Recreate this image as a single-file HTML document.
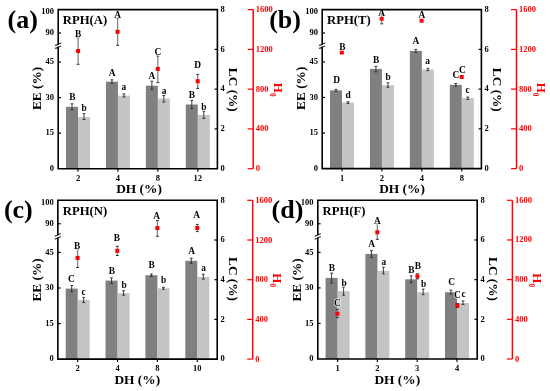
<!DOCTYPE html>
<html><head><meta charset="utf-8"><style>
html,body{margin:0;padding:0;background:#fff;}
svg{display:block;will-change:transform;}
text{font-family:"Liberation Serif",serif;font-weight:bold;}
</style></head><body>
<svg width="550" height="391" viewBox="0 0 550 391">
<rect width="550" height="391" fill="#fff"/>
<rect x="66" y="106.8" width="12" height="61.9" fill="#808080"/>
<rect x="78" y="117.1" width="12" height="51.6" fill="#c4c4c4"/>
<rect x="105.93" y="81.7" width="12" height="87" fill="#808080"/>
<rect x="117.93" y="95.6" width="12" height="73.1" fill="#c4c4c4"/>
<rect x="145.86" y="85.7" width="12" height="83" fill="#808080"/>
<rect x="157.86" y="98.6" width="12" height="70.1" fill="#c4c4c4"/>
<rect x="185.8" y="104.5" width="12" height="64.2" fill="#808080"/>
<rect x="197.8" y="115" width="12" height="53.7" fill="#c4c4c4"/>
<path d="M72 103.8V109.9M70.6 103.8H73.4M70.6 109.9H73.4" stroke="#2a2a2a" stroke-width="0.9" fill="none"/>
<path d="M84 113.6V119.5M82.6 113.6H85.4M82.6 119.5H85.4" stroke="#2a2a2a" stroke-width="0.9" fill="none"/>
<text x="72.3" y="99.95" font-size="9.4" text-anchor="middle" fill="#000" stroke="#fff" stroke-width="1.2" paint-order="stroke" stroke-linejoin="round">B</text>
<text x="84.2" y="111.25" font-size="9.4" text-anchor="middle" fill="#000" stroke="#fff" stroke-width="1.2" paint-order="stroke" stroke-linejoin="round">b</text>
<path d="M111.93 79.8V83.2M110.53 79.8H113.33M110.53 83.2H113.33" stroke="#2a2a2a" stroke-width="0.9" fill="none"/>
<path d="M123.93 93.9V97M122.53 93.9H125.33M122.53 97H125.33" stroke="#2a2a2a" stroke-width="0.9" fill="none"/>
<text x="112.2" y="76.05" font-size="9.4" text-anchor="middle" fill="#000" stroke="#fff" stroke-width="1.2" paint-order="stroke" stroke-linejoin="round">A</text>
<text x="123.9" y="89.8" font-size="9.4" text-anchor="middle" fill="#000" stroke="#fff" stroke-width="1.2" paint-order="stroke" stroke-linejoin="round">a</text>
<path d="M151.86 81.2V89.4M150.46 81.2H153.26M150.46 89.4H153.26" stroke="#2a2a2a" stroke-width="0.9" fill="none"/>
<path d="M163.86 95.5V102.1M162.46 95.5H165.26M162.46 102.1H165.26" stroke="#2a2a2a" stroke-width="0.9" fill="none"/>
<text x="151.9" y="79.25" font-size="9.4" text-anchor="middle" fill="#000" stroke="#fff" stroke-width="1.2" paint-order="stroke" stroke-linejoin="round">A</text>
<text x="164" y="93.6" font-size="9.4" text-anchor="middle" fill="#000" stroke="#fff" stroke-width="1.2" paint-order="stroke" stroke-linejoin="round">a</text>
<path d="M191.8 100.4V108.6M190.4 100.4H193.2M190.4 108.6H193.2" stroke="#2a2a2a" stroke-width="0.9" fill="none"/>
<path d="M203.8 111.3V118.4M202.4 111.3H205.2M202.4 118.4H205.2" stroke="#2a2a2a" stroke-width="0.9" fill="none"/>
<text x="191.8" y="98.25" font-size="9.4" text-anchor="middle" fill="#000" stroke="#fff" stroke-width="1.2" paint-order="stroke" stroke-linejoin="round">B</text>
<text x="203.9" y="109.95" font-size="9.4" text-anchor="middle" fill="#000" stroke="#fff" stroke-width="1.2" paint-order="stroke" stroke-linejoin="round">b</text>
<path d="M78.1 37.7V64.3" stroke="#858585" stroke-width="1.3" fill="none"/>
<path d="M76.65 37.7H79.55M76.65 64.3H79.55" stroke="#333" stroke-width="1" fill="none"/>
<rect x="76.1" y="49" width="4" height="4" fill="#ff0000"/>
<text x="78.1" y="36.55" font-size="9.4" text-anchor="middle" fill="#000" stroke="#fff" stroke-width="1.2" paint-order="stroke" stroke-linejoin="round">B</text>
<path d="M117.6 18.1V45.4" stroke="#858585" stroke-width="1.3" fill="none"/>
<path d="M116.15 18.1H119.05M116.15 45.4H119.05" stroke="#333" stroke-width="1" fill="none"/>
<rect x="115.6" y="29.8" width="4" height="4" fill="#ff0000"/>
<text x="117.6" y="18.15" font-size="9.4" text-anchor="middle" fill="#000" stroke="#fff" stroke-width="1.2" paint-order="stroke" stroke-linejoin="round">A</text>
<path d="M157.8 56V82.6" stroke="#858585" stroke-width="1.3" fill="none"/>
<path d="M156.35 56H159.25M156.35 82.6H159.25" stroke="#333" stroke-width="1" fill="none"/>
<rect x="155.8" y="66.9" width="4" height="4" fill="#ff0000"/>
<text x="157.9" y="54.65" font-size="9.4" text-anchor="middle" fill="#000" stroke="#fff" stroke-width="1.2" paint-order="stroke" stroke-linejoin="round">C</text>
<path d="M197.7 74.4V88.4" stroke="#858585" stroke-width="1.3" fill="none"/>
<path d="M196.25 74.4H199.15M196.25 88.4H199.15" stroke="#333" stroke-width="1" fill="none"/>
<rect x="195.7" y="79.2" width="4" height="4" fill="#ff0000"/>
<text x="197.7" y="67.55" font-size="9.4" text-anchor="middle" fill="#000" stroke="#fff" stroke-width="1.2" paint-order="stroke" stroke-linejoin="round">D</text>
<path d="M58.2 9.6H217.4V168.7H58.2Z" stroke="#000" stroke-width="1.6" fill="none"/>
<rect x="56.2" y="44.6" width="4" height="2.2" fill="#fff"/>
<path d="M55.2 45.4q1.5 -0.2 3 -1.2t3 -1.2M55.2 48.4q1.5 -0.2 3 -1.2t3 -1.2" stroke="#000" stroke-width="1.1" fill="none"/>
<text x="54" y="171" font-size="8.5" text-anchor="end">0</text>
<path d="M58.2 133.15h2.8" stroke="#000" stroke-width="1.2"/>
<text x="54" y="135.45" font-size="8.5" text-anchor="end">15</text>
<path d="M58.2 97.6h2.8" stroke="#000" stroke-width="1.2"/>
<text x="54" y="99.9" font-size="8.5" text-anchor="end">30</text>
<path d="M58.2 62.05h2.8" stroke="#000" stroke-width="1.2"/>
<text x="54" y="64.35" font-size="8.5" text-anchor="end">45</text>
<path d="M58.2 33.06h2.8" stroke="#000" stroke-width="1.2"/>
<text x="54" y="35.36" font-size="8.5" text-anchor="end">90</text>
<text x="54" y="14" font-size="8.5" text-anchor="end">100</text>
<text x="220.6" y="170.9" font-size="8.5">0</text>
<path d="M217.4 128.92h-2.8" stroke="#000" stroke-width="1.2"/>
<text x="220.6" y="131.12" font-size="8.5">2</text>
<path d="M217.4 89.15h-2.8" stroke="#000" stroke-width="1.2"/>
<text x="220.6" y="91.35" font-size="8.5">4</text>
<path d="M217.4 49.38h-2.8" stroke="#000" stroke-width="1.2"/>
<text x="220.6" y="51.58" font-size="8.5">6</text>
<text x="220.6" y="11.8" font-size="8.5">8</text>
<path d="M78 168.7v3" stroke="#000" stroke-width="1.1"/>
<text x="78" y="180.8" font-size="8.5" text-anchor="middle">2</text>
<path d="M117.93 168.7v3" stroke="#000" stroke-width="1.1"/>
<text x="117.93" y="180.8" font-size="8.5" text-anchor="middle">4</text>
<path d="M157.86 168.7v3" stroke="#000" stroke-width="1.1"/>
<text x="157.86" y="180.8" font-size="8.5" text-anchor="middle">8</text>
<path d="M197.8 168.7v3" stroke="#000" stroke-width="1.1"/>
<text x="197.8" y="180.8" font-size="8.5" text-anchor="middle">12</text>
<path d="M253.2 9.6V168.7" stroke="#ff0000" stroke-width="1.5"/>
<path d="M253.2 168.7h-5.5" stroke="#ff0000" stroke-width="1.2"/>
<text x="255.7" y="171.2" font-size="8.5" fill="#ff0000">0</text>
<path d="M253.2 128.92h-5.5" stroke="#ff0000" stroke-width="1.2"/>
<text x="255.7" y="131.42" font-size="8.5" fill="#ff0000">400</text>
<path d="M253.2 89.15h-5.5" stroke="#ff0000" stroke-width="1.2"/>
<text x="255.7" y="91.65" font-size="8.5" fill="#ff0000">800</text>
<path d="M253.2 49.37h-5.5" stroke="#ff0000" stroke-width="1.2"/>
<text x="255.7" y="51.87" font-size="8.5" fill="#ff0000">1200</text>
<path d="M253.2 9.6h-5.5" stroke="#ff0000" stroke-width="1.2"/>
<text x="255.7" y="12.1" font-size="8.5" fill="#ff0000">1600</text>
<text transform="translate(273.5 89.65) rotate(90)" font-size="13" fill="#ff0000" text-anchor="middle">H<tspan font-size="7.2" dy="3.4">0</tspan></text>
<text x="62.8" y="24.2" font-size="12.7">RPH(A)</text>
<text x="7.6" y="28.3" font-size="26">(a)</text>
<text x="139" y="192.9" font-size="13.4" text-anchor="middle">DH (%)</text>
<text transform="translate(41.3 88.5) rotate(-90)" font-size="13.3" text-anchor="middle">EE (%)</text>
<text transform="translate(229 89.8) rotate(90)" font-size="13.3" text-anchor="middle">LC (%)</text>
<rect x="330" y="90.4" width="12" height="78.2" fill="#808080"/>
<rect x="342" y="102.6" width="12" height="66" fill="#c4c4c4"/>
<rect x="369.93" y="68.9" width="12" height="99.7" fill="#808080"/>
<rect x="381.93" y="85.2" width="12" height="83.4" fill="#c4c4c4"/>
<rect x="409.86" y="50.9" width="12" height="117.7" fill="#808080"/>
<rect x="421.86" y="69.5" width="12" height="99.1" fill="#c4c4c4"/>
<rect x="449.8" y="84.8" width="12" height="83.8" fill="#808080"/>
<rect x="461.8" y="98.1" width="12" height="70.5" fill="#c4c4c4"/>
<path d="M336 89.4V91.4M334.6 89.4H337.4M334.6 91.4H337.4" stroke="#2a2a2a" stroke-width="0.9" fill="none"/>
<path d="M348 101.8V103.4M346.6 101.8H349.4M346.6 103.4H349.4" stroke="#2a2a2a" stroke-width="0.9" fill="none"/>
<text x="336.7" y="83.45" font-size="9.4" text-anchor="middle" fill="#000" stroke="#fff" stroke-width="1.2" paint-order="stroke" stroke-linejoin="round">D</text>
<text x="348.2" y="97.75" font-size="9.4" text-anchor="middle" fill="#000" stroke="#fff" stroke-width="1.2" paint-order="stroke" stroke-linejoin="round">d</text>
<path d="M375.93 66.4V71.9M374.53 66.4H377.33M374.53 71.9H377.33" stroke="#2a2a2a" stroke-width="0.9" fill="none"/>
<path d="M387.93 82.8V87.3M386.53 82.8H389.33M386.53 87.3H389.33" stroke="#2a2a2a" stroke-width="0.9" fill="none"/>
<text x="376.2" y="62.65" font-size="9.4" text-anchor="middle" fill="#000" stroke="#fff" stroke-width="1.2" paint-order="stroke" stroke-linejoin="round">B</text>
<text x="388.1" y="79.95" font-size="9.4" text-anchor="middle" fill="#000" stroke="#fff" stroke-width="1.2" paint-order="stroke" stroke-linejoin="round">b</text>
<path d="M415.86 49.5V52.3M414.46 49.5H417.26M414.46 52.3H417.26" stroke="#2a2a2a" stroke-width="0.9" fill="none"/>
<path d="M427.86 68.3V70.7M426.46 68.3H429.26M426.46 70.7H429.26" stroke="#2a2a2a" stroke-width="0.9" fill="none"/>
<text x="415.9" y="43.95" font-size="9.4" text-anchor="middle" fill="#000" stroke="#fff" stroke-width="1.2" paint-order="stroke" stroke-linejoin="round">A</text>
<text x="427.6" y="64.1" font-size="9.4" text-anchor="middle" fill="#000" stroke="#fff" stroke-width="1.2" paint-order="stroke" stroke-linejoin="round">a</text>
<path d="M455.8 83.5V86.2M454.4 83.5H457.2M454.4 86.2H457.2" stroke="#2a2a2a" stroke-width="0.9" fill="none"/>
<path d="M467.8 97V99.5M466.4 97H469.2M466.4 99.5H469.2" stroke="#2a2a2a" stroke-width="0.9" fill="none"/>
<text x="455.8" y="77.95" font-size="9.4" text-anchor="middle" fill="#000" stroke="#fff" stroke-width="1.2" paint-order="stroke" stroke-linejoin="round">C</text>
<text x="467.5" y="92.8" font-size="9.4" text-anchor="middle" fill="#000" stroke="#fff" stroke-width="1.2" paint-order="stroke" stroke-linejoin="round">c</text>
<path d="M341.8 51.5V53.5" stroke="#858585" stroke-width="1.3" fill="none"/>
<path d="M340.35 51.5H343.25M340.35 53.5H343.25" stroke="#333" stroke-width="1" fill="none"/>
<rect x="339.8" y="50.5" width="4" height="4" fill="#ff0000"/>
<text x="342.5" y="49.75" font-size="9.4" text-anchor="middle" fill="#000" stroke="#fff" stroke-width="1.2" paint-order="stroke" stroke-linejoin="round">B</text>
<path d="M381.7 14.6V23.8" stroke="#858585" stroke-width="1.3" fill="none"/>
<path d="M380.25 14.6H383.15M380.25 23.8H383.15" stroke="#333" stroke-width="1" fill="none"/>
<rect x="379.7" y="16.7" width="4" height="4" fill="#ff0000"/>
<text x="381.7" y="15.95" font-size="9.4" text-anchor="middle" fill="#000" stroke="#fff" stroke-width="1.2" paint-order="stroke" stroke-linejoin="round">A</text>
<path d="M421.6 19.7V21.7" stroke="#858585" stroke-width="1.3" fill="none"/>
<path d="M420.15 19.7H423.05M420.15 21.7H423.05" stroke="#333" stroke-width="1" fill="none"/>
<rect x="419.6" y="18.7" width="4" height="4" fill="#ff0000"/>
<text x="421.9" y="18.25" font-size="9.4" text-anchor="middle" fill="#000" stroke="#fff" stroke-width="1.2" paint-order="stroke" stroke-linejoin="round">A</text>
<path d="M461.7 76V78" stroke="#858585" stroke-width="1.3" fill="none"/>
<path d="M460.25 76H463.15M460.25 78H463.15" stroke="#333" stroke-width="1" fill="none"/>
<rect x="459.7" y="75" width="4" height="4" fill="#ff0000"/>
<text x="462.4" y="73.25" font-size="9.4" text-anchor="middle" fill="#000" stroke="#fff" stroke-width="1.2" paint-order="stroke" stroke-linejoin="round">C</text>
<path d="M322.2 9.6H481.4V168.6H322.2Z" stroke="#000" stroke-width="1.6" fill="none"/>
<rect x="320.2" y="44.6" width="4" height="2.2" fill="#fff"/>
<path d="M319.2 45.4q1.5 -0.2 3 -1.2t3 -1.2M319.2 48.4q1.5 -0.2 3 -1.2t3 -1.2" stroke="#000" stroke-width="1.1" fill="none"/>
<text x="318" y="170.9" font-size="8.5" text-anchor="end">0</text>
<path d="M322.2 133.05h2.8" stroke="#000" stroke-width="1.2"/>
<text x="318" y="135.35" font-size="8.5" text-anchor="end">15</text>
<path d="M322.2 97.5h2.8" stroke="#000" stroke-width="1.2"/>
<text x="318" y="99.8" font-size="8.5" text-anchor="end">30</text>
<path d="M322.2 61.95h2.8" stroke="#000" stroke-width="1.2"/>
<text x="318" y="64.25" font-size="8.5" text-anchor="end">45</text>
<path d="M322.2 33.06h2.8" stroke="#000" stroke-width="1.2"/>
<text x="318" y="35.36" font-size="8.5" text-anchor="end">90</text>
<text x="318" y="14" font-size="8.5" text-anchor="end">100</text>
<text x="484.6" y="170.8" font-size="8.5">0</text>
<path d="M481.4 128.85h-2.8" stroke="#000" stroke-width="1.2"/>
<text x="484.6" y="131.05" font-size="8.5">2</text>
<path d="M481.4 89.1h-2.8" stroke="#000" stroke-width="1.2"/>
<text x="484.6" y="91.3" font-size="8.5">4</text>
<path d="M481.4 49.35h-2.8" stroke="#000" stroke-width="1.2"/>
<text x="484.6" y="51.55" font-size="8.5">6</text>
<text x="484.6" y="11.8" font-size="8.5">8</text>
<path d="M342 168.6v3" stroke="#000" stroke-width="1.1"/>
<text x="342" y="180.8" font-size="8.5" text-anchor="middle">1</text>
<path d="M381.93 168.6v3" stroke="#000" stroke-width="1.1"/>
<text x="381.93" y="180.8" font-size="8.5" text-anchor="middle">2</text>
<path d="M421.86 168.6v3" stroke="#000" stroke-width="1.1"/>
<text x="421.86" y="180.8" font-size="8.5" text-anchor="middle">4</text>
<path d="M461.8 168.6v3" stroke="#000" stroke-width="1.1"/>
<text x="461.8" y="180.8" font-size="8.5" text-anchor="middle">8</text>
<path d="M516.5 9.6V168.6" stroke="#ff0000" stroke-width="1.5"/>
<path d="M516.5 168.6h-5.5" stroke="#ff0000" stroke-width="1.2"/>
<text x="519" y="171.1" font-size="8.5" fill="#ff0000">0</text>
<path d="M516.5 128.85h-5.5" stroke="#ff0000" stroke-width="1.2"/>
<text x="519" y="131.35" font-size="8.5" fill="#ff0000">400</text>
<path d="M516.5 89.1h-5.5" stroke="#ff0000" stroke-width="1.2"/>
<text x="519" y="91.6" font-size="8.5" fill="#ff0000">800</text>
<path d="M516.5 49.35h-5.5" stroke="#ff0000" stroke-width="1.2"/>
<text x="519" y="51.85" font-size="8.5" fill="#ff0000">1200</text>
<path d="M516.5 9.6h-5.5" stroke="#ff0000" stroke-width="1.2"/>
<text x="519" y="12.1" font-size="8.5" fill="#ff0000">1600</text>
<text transform="translate(536.8 89.6) rotate(90)" font-size="13" fill="#ff0000" text-anchor="middle">H<tspan font-size="7.2" dy="3.4">0</tspan></text>
<text x="327" y="24" font-size="12.7">RPH(T)</text>
<text x="269.2" y="28.3" font-size="26">(b)</text>
<text x="402" y="192.9" font-size="13.4" text-anchor="middle">DH (%)</text>
<text transform="translate(305.3 88.3) rotate(-90)" font-size="13.3" text-anchor="middle">EE (%)</text>
<text transform="translate(493 89.8) rotate(90)" font-size="13.3" text-anchor="middle">LC (%)</text>
<rect x="65.7" y="288.6" width="12" height="70.5" fill="#808080"/>
<rect x="77.7" y="299.9" width="12" height="59.2" fill="#c4c4c4"/>
<rect x="105.55" y="280.6" width="12" height="78.5" fill="#808080"/>
<rect x="117.55" y="293.1" width="12" height="66" fill="#c4c4c4"/>
<rect x="145.4" y="275.2" width="12" height="83.9" fill="#808080"/>
<rect x="157.4" y="288.3" width="12" height="70.8" fill="#c4c4c4"/>
<rect x="185.3" y="260.8" width="12" height="98.3" fill="#808080"/>
<rect x="197.3" y="276.9" width="12" height="82.2" fill="#c4c4c4"/>
<path d="M71.7 285.6V291.7M70.3 285.6H73.1M70.3 291.7H73.1" stroke="#2a2a2a" stroke-width="0.9" fill="none"/>
<path d="M83.7 297.4V302.6M82.3 297.4H85.1M82.3 302.6H85.1" stroke="#2a2a2a" stroke-width="0.9" fill="none"/>
<text x="71.5" y="282.15" font-size="9.4" text-anchor="middle" fill="#000" stroke="#fff" stroke-width="1.2" paint-order="stroke" stroke-linejoin="round">C</text>
<text x="83.6" y="294.5" font-size="9.4" text-anchor="middle" fill="#000" stroke="#fff" stroke-width="1.2" paint-order="stroke" stroke-linejoin="round">c</text>
<path d="M111.55 277.9V283.4M110.15 277.9H112.95M110.15 283.4H112.95" stroke="#2a2a2a" stroke-width="0.9" fill="none"/>
<path d="M123.55 290.7V295.2M122.15 290.7H124.95M122.15 295.2H124.95" stroke="#2a2a2a" stroke-width="0.9" fill="none"/>
<text x="112" y="273.55" font-size="9.4" text-anchor="middle" fill="#000" stroke="#fff" stroke-width="1.2" paint-order="stroke" stroke-linejoin="round">B</text>
<text x="124.1" y="287.85" font-size="9.4" text-anchor="middle" fill="#000" stroke="#fff" stroke-width="1.2" paint-order="stroke" stroke-linejoin="round">b</text>
<path d="M151.4 274V276.5M150 274H152.8M150 276.5H152.8" stroke="#2a2a2a" stroke-width="0.9" fill="none"/>
<path d="M163.4 287.3V289.3M162 287.3H164.8M162 289.3H164.8" stroke="#2a2a2a" stroke-width="0.9" fill="none"/>
<text x="151.7" y="268.35" font-size="9.4" text-anchor="middle" fill="#000" stroke="#fff" stroke-width="1.2" paint-order="stroke" stroke-linejoin="round">B</text>
<text x="163.6" y="283.05" font-size="9.4" text-anchor="middle" fill="#000" stroke="#fff" stroke-width="1.2" paint-order="stroke" stroke-linejoin="round">b</text>
<path d="M191.3 258.2V263.3M189.9 258.2H192.7M189.9 263.3H192.7" stroke="#2a2a2a" stroke-width="0.9" fill="none"/>
<path d="M203.3 274.3V279.2M201.9 274.3H204.7M201.9 279.2H204.7" stroke="#2a2a2a" stroke-width="0.9" fill="none"/>
<text x="191.6" y="254.35" font-size="9.4" text-anchor="middle" fill="#000" stroke="#fff" stroke-width="1.2" paint-order="stroke" stroke-linejoin="round">A</text>
<text x="203.5" y="271.2" font-size="9.4" text-anchor="middle" fill="#000" stroke="#fff" stroke-width="1.2" paint-order="stroke" stroke-linejoin="round">a</text>
<path d="M77.6 249V267.5" stroke="#858585" stroke-width="1.3" fill="none"/>
<path d="M76.15 249H79.05M76.15 267.5H79.05" stroke="#333" stroke-width="1" fill="none"/>
<rect x="75.6" y="255.9" width="4" height="4" fill="#ff0000"/>
<text x="77.2" y="248.75" font-size="9.4" text-anchor="middle" fill="#000" stroke="#fff" stroke-width="1.2" paint-order="stroke" stroke-linejoin="round">B</text>
<path d="M117.3 246.3V255.5" stroke="#858585" stroke-width="1.3" fill="none"/>
<path d="M115.85 246.3H118.75M115.85 255.5H118.75" stroke="#333" stroke-width="1" fill="none"/>
<rect x="115.3" y="248.8" width="4" height="4" fill="#ff0000"/>
<text x="116.9" y="240.85" font-size="9.4" text-anchor="middle" fill="#000" stroke="#fff" stroke-width="1.2" paint-order="stroke" stroke-linejoin="round">B</text>
<path d="M157.4 220.5V236.3" stroke="#858585" stroke-width="1.3" fill="none"/>
<path d="M155.95 220.5H158.85M155.95 236.3H158.85" stroke="#333" stroke-width="1" fill="none"/>
<rect x="155.4" y="226.1" width="4" height="4" fill="#ff0000"/>
<text x="156.7" y="219.25" font-size="9.4" text-anchor="middle" fill="#000" stroke="#fff" stroke-width="1.2" paint-order="stroke" stroke-linejoin="round">A</text>
<path d="M197.3 224.4V231.6" stroke="#858585" stroke-width="1.3" fill="none"/>
<path d="M195.85 224.4H198.75M195.85 231.6H198.75" stroke="#333" stroke-width="1" fill="none"/>
<rect x="195.3" y="226" width="4" height="4" fill="#ff0000"/>
<text x="196.7" y="218.25" font-size="9.4" text-anchor="middle" fill="#000" stroke="#fff" stroke-width="1.2" paint-order="stroke" stroke-linejoin="round">A</text>
<path d="M57.85 200.3H217.2V359.1H57.85Z" stroke="#000" stroke-width="1.6" fill="none"/>
<rect x="55.85" y="235.3" width="4" height="2.2" fill="#fff"/>
<path d="M54.85 236.1q1.5 -0.2 3 -1.2t3 -1.2M54.85 239.1q1.5 -0.2 3 -1.2t3 -1.2" stroke="#000" stroke-width="1.1" fill="none"/>
<text x="53.65" y="361.4" font-size="8.5" text-anchor="end">0</text>
<path d="M57.85 323.55h2.8" stroke="#000" stroke-width="1.2"/>
<text x="53.65" y="325.85" font-size="8.5" text-anchor="end">15</text>
<path d="M57.85 288h2.8" stroke="#000" stroke-width="1.2"/>
<text x="53.65" y="290.3" font-size="8.5" text-anchor="end">30</text>
<path d="M57.85 252.45h2.8" stroke="#000" stroke-width="1.2"/>
<text x="53.65" y="254.75" font-size="8.5" text-anchor="end">45</text>
<path d="M57.85 223.76h2.8" stroke="#000" stroke-width="1.2"/>
<text x="53.65" y="226.06" font-size="8.5" text-anchor="end">90</text>
<text x="53.65" y="204.7" font-size="8.5" text-anchor="end">100</text>
<text x="220.4" y="361.3" font-size="8.5">0</text>
<path d="M217.2 319.4h-2.8" stroke="#000" stroke-width="1.2"/>
<text x="220.4" y="321.6" font-size="8.5">2</text>
<path d="M217.2 279.7h-2.8" stroke="#000" stroke-width="1.2"/>
<text x="220.4" y="281.9" font-size="8.5">4</text>
<path d="M217.2 240h-2.8" stroke="#000" stroke-width="1.2"/>
<text x="220.4" y="242.2" font-size="8.5">6</text>
<text x="220.4" y="202.5" font-size="8.5">8</text>
<path d="M77.7 359.1v3" stroke="#000" stroke-width="1.1"/>
<text x="77.7" y="371.2" font-size="8.5" text-anchor="middle">2</text>
<path d="M117.55 359.1v3" stroke="#000" stroke-width="1.1"/>
<text x="117.55" y="371.2" font-size="8.5" text-anchor="middle">4</text>
<path d="M157.4 359.1v3" stroke="#000" stroke-width="1.1"/>
<text x="157.4" y="371.2" font-size="8.5" text-anchor="middle">8</text>
<path d="M197.3 359.1v3" stroke="#000" stroke-width="1.1"/>
<text x="197.3" y="371.2" font-size="8.5" text-anchor="middle">10</text>
<path d="M252.7 200.3V359.1" stroke="#ff0000" stroke-width="1.5"/>
<path d="M252.7 359.1h-5.5" stroke="#ff0000" stroke-width="1.2"/>
<text x="255.2" y="361.6" font-size="8.5" fill="#ff0000">0</text>
<path d="M252.7 319.4h-5.5" stroke="#ff0000" stroke-width="1.2"/>
<text x="255.2" y="321.9" font-size="8.5" fill="#ff0000">400</text>
<path d="M252.7 279.7h-5.5" stroke="#ff0000" stroke-width="1.2"/>
<text x="255.2" y="282.2" font-size="8.5" fill="#ff0000">800</text>
<path d="M252.7 240h-5.5" stroke="#ff0000" stroke-width="1.2"/>
<text x="255.2" y="242.5" font-size="8.5" fill="#ff0000">1200</text>
<path d="M252.7 200.3h-5.5" stroke="#ff0000" stroke-width="1.2"/>
<text x="255.2" y="202.8" font-size="8.5" fill="#ff0000">1600</text>
<text transform="translate(273 280.2) rotate(90)" font-size="13" fill="#ff0000" text-anchor="middle">H<tspan font-size="7.2" dy="3.4">0</tspan></text>
<text x="62.8" y="214.6" font-size="12.7">RPH(N)</text>
<text x="3.9" y="218.1" font-size="26">(c)</text>
<text x="137.3" y="383.7" font-size="13.4" text-anchor="middle">DH (%)</text>
<text transform="translate(40.9 280) rotate(-90)" font-size="13.3" text-anchor="middle">EE (%)</text>
<text transform="translate(228.6 279) rotate(90)" font-size="13.3" text-anchor="middle">LC (%)</text>
<rect x="325.6" y="277.9" width="12" height="81.1" fill="#808080"/>
<rect x="337.6" y="291.2" width="12" height="67.8" fill="#c4c4c4"/>
<rect x="365.4" y="253.9" width="12" height="105.1" fill="#808080"/>
<rect x="377.4" y="270.7" width="12" height="88.3" fill="#c4c4c4"/>
<rect x="405.2" y="279.3" width="12" height="79.7" fill="#808080"/>
<rect x="417.2" y="292.2" width="12" height="66.8" fill="#c4c4c4"/>
<rect x="445" y="292.2" width="12" height="66.8" fill="#808080"/>
<rect x="457" y="303" width="12" height="56" fill="#c4c4c4"/>
<path d="M331.6 273.1V283M330.2 273.1H333M330.2 283H333" stroke="#2a2a2a" stroke-width="0.9" fill="none"/>
<path d="M343.6 287.1V295.2M342.2 287.1H345M342.2 295.2H345" stroke="#2a2a2a" stroke-width="0.9" fill="none"/>
<text x="331.9" y="270.95" font-size="9.4" text-anchor="middle" fill="#000" stroke="#fff" stroke-width="1.2" paint-order="stroke" stroke-linejoin="round">B</text>
<text x="344" y="286.35" font-size="9.4" text-anchor="middle" fill="#000" stroke="#fff" stroke-width="1.2" paint-order="stroke" stroke-linejoin="round">b</text>
<path d="M371.4 250.6V257.4M370 250.6H372.8M370 257.4H372.8" stroke="#2a2a2a" stroke-width="0.9" fill="none"/>
<path d="M383.4 267.2V273.8M382 267.2H384.8M382 273.8H384.8" stroke="#2a2a2a" stroke-width="0.9" fill="none"/>
<text x="371.6" y="247.05" font-size="9.4" text-anchor="middle" fill="#000" stroke="#fff" stroke-width="1.2" paint-order="stroke" stroke-linejoin="round">A</text>
<text x="383.9" y="264.5" font-size="9.4" text-anchor="middle" fill="#000" stroke="#fff" stroke-width="1.2" paint-order="stroke" stroke-linejoin="round">a</text>
<path d="M411.2 275.8V282.6M409.8 275.8H412.6M409.8 282.6H412.6" stroke="#2a2a2a" stroke-width="0.9" fill="none"/>
<path d="M423.2 289.1V294.6M421.8 289.1H424.6M421.8 294.6H424.6" stroke="#2a2a2a" stroke-width="0.9" fill="none"/>
<text x="411.3" y="273.05" font-size="9.4" text-anchor="middle" fill="#000" stroke="#fff" stroke-width="1.2" paint-order="stroke" stroke-linejoin="round">B</text>
<text x="423.6" y="286.95" font-size="9.4" text-anchor="middle" fill="#000" stroke="#fff" stroke-width="1.2" paint-order="stroke" stroke-linejoin="round">b</text>
<path d="M451 290.2V294.2M449.6 290.2H452.4M449.6 294.2H452.4" stroke="#2a2a2a" stroke-width="0.9" fill="none"/>
<path d="M463 301V304.4M461.6 301H464.4M461.6 304.4H464.4" stroke="#2a2a2a" stroke-width="0.9" fill="none"/>
<text x="451.6" y="285.25" font-size="9.4" text-anchor="middle" fill="#000" stroke="#fff" stroke-width="1.2" paint-order="stroke" stroke-linejoin="round">C</text>
<text x="463.5" y="297.2" font-size="9.4" text-anchor="middle" fill="#000" stroke="#fff" stroke-width="1.2" paint-order="stroke" stroke-linejoin="round">c</text>
<path d="M337.4 309.6V317.7" stroke="#858585" stroke-width="1.3" fill="none"/>
<path d="M335.95 309.6H338.85M335.95 317.7H338.85" stroke="#333" stroke-width="1" fill="none"/>
<rect x="335.4" y="311.7" width="4" height="4" fill="#ff0000"/>
<text x="337.4" y="305.75" font-size="9.4" text-anchor="middle" fill="#000" stroke="#fff" stroke-width="1.2" paint-order="stroke" stroke-linejoin="round">C</text>
<path d="M377.3 223.5V239.3" stroke="#858585" stroke-width="1.3" fill="none"/>
<path d="M375.85 223.5H378.75M375.85 239.3H378.75" stroke="#333" stroke-width="1" fill="none"/>
<rect x="375.3" y="230.3" width="4" height="4" fill="#ff0000"/>
<text x="377.3" y="223.85" font-size="9.4" text-anchor="middle" fill="#000" stroke="#fff" stroke-width="1.2" paint-order="stroke" stroke-linejoin="round">A</text>
<path d="M417.4 273.8V278.9" stroke="#858585" stroke-width="1.3" fill="none"/>
<path d="M415.95 273.8H418.85M415.95 278.9H418.85" stroke="#333" stroke-width="1" fill="none"/>
<rect x="415.4" y="274.4" width="4" height="4" fill="#ff0000"/>
<text x="417.8" y="269.35" font-size="9.4" text-anchor="middle" fill="#000" stroke="#fff" stroke-width="1.2" paint-order="stroke" stroke-linejoin="round">B</text>
<path d="M457.3 303.5V307.5" stroke="#858585" stroke-width="1.3" fill="none"/>
<path d="M455.85 303.5H458.75M455.85 307.5H458.75" stroke="#333" stroke-width="1" fill="none"/>
<rect x="455.3" y="303.5" width="4" height="4" fill="#ff0000"/>
<text x="457.3" y="298.15" font-size="9.4" text-anchor="middle" fill="#000" stroke="#fff" stroke-width="1.2" paint-order="stroke" stroke-linejoin="round">C</text>
<path d="M317.8 200.3H477.2V359H317.8Z" stroke="#000" stroke-width="1.6" fill="none"/>
<rect x="315.8" y="235.3" width="4" height="2.2" fill="#fff"/>
<path d="M314.8 236.1q1.5 -0.2 3 -1.2t3 -1.2M314.8 239.1q1.5 -0.2 3 -1.2t3 -1.2" stroke="#000" stroke-width="1.1" fill="none"/>
<text x="313.6" y="361.3" font-size="8.5" text-anchor="end">0</text>
<path d="M317.8 323.45h2.8" stroke="#000" stroke-width="1.2"/>
<text x="313.6" y="325.75" font-size="8.5" text-anchor="end">15</text>
<path d="M317.8 287.9h2.8" stroke="#000" stroke-width="1.2"/>
<text x="313.6" y="290.2" font-size="8.5" text-anchor="end">30</text>
<path d="M317.8 252.35h2.8" stroke="#000" stroke-width="1.2"/>
<text x="313.6" y="254.65" font-size="8.5" text-anchor="end">45</text>
<path d="M317.8 223.76h2.8" stroke="#000" stroke-width="1.2"/>
<text x="313.6" y="226.06" font-size="8.5" text-anchor="end">90</text>
<text x="313.6" y="204.7" font-size="8.5" text-anchor="end">100</text>
<text x="480.4" y="361.2" font-size="8.5">0</text>
<path d="M477.2 319.32h-2.8" stroke="#000" stroke-width="1.2"/>
<text x="480.4" y="321.52" font-size="8.5">2</text>
<path d="M477.2 279.65h-2.8" stroke="#000" stroke-width="1.2"/>
<text x="480.4" y="281.85" font-size="8.5">4</text>
<path d="M477.2 239.98h-2.8" stroke="#000" stroke-width="1.2"/>
<text x="480.4" y="242.18" font-size="8.5">6</text>
<text x="480.4" y="202.5" font-size="8.5">8</text>
<path d="M337.6 359v3" stroke="#000" stroke-width="1.1"/>
<text x="337.6" y="371.2" font-size="8.5" text-anchor="middle">1</text>
<path d="M377.4 359v3" stroke="#000" stroke-width="1.1"/>
<text x="377.4" y="371.2" font-size="8.5" text-anchor="middle">2</text>
<path d="M417.2 359v3" stroke="#000" stroke-width="1.1"/>
<text x="417.2" y="371.2" font-size="8.5" text-anchor="middle">3</text>
<path d="M457 359v3" stroke="#000" stroke-width="1.1"/>
<text x="457" y="371.2" font-size="8.5" text-anchor="middle">4</text>
<path d="M512.4 200.3V359" stroke="#ff0000" stroke-width="1.5"/>
<path d="M512.4 359h-5.5" stroke="#ff0000" stroke-width="1.2"/>
<text x="514.9" y="361.5" font-size="8.5" fill="#ff0000">0</text>
<path d="M512.4 319.32h-5.5" stroke="#ff0000" stroke-width="1.2"/>
<text x="514.9" y="321.82" font-size="8.5" fill="#ff0000">400</text>
<path d="M512.4 279.65h-5.5" stroke="#ff0000" stroke-width="1.2"/>
<text x="514.9" y="282.15" font-size="8.5" fill="#ff0000">800</text>
<path d="M512.4 239.97h-5.5" stroke="#ff0000" stroke-width="1.2"/>
<text x="514.9" y="242.47" font-size="8.5" fill="#ff0000">1200</text>
<path d="M512.4 200.3h-5.5" stroke="#ff0000" stroke-width="1.2"/>
<text x="514.9" y="202.8" font-size="8.5" fill="#ff0000">1600</text>
<text transform="translate(532.7 280.15) rotate(90)" font-size="13" fill="#ff0000" text-anchor="middle">H<tspan font-size="7.2" dy="3.4">0</tspan></text>
<text x="322.5" y="214.6" font-size="12.7">RPH(F)</text>
<text x="271.6" y="218.1" font-size="26">(d)</text>
<text x="397.3" y="383.7" font-size="13.4" text-anchor="middle">DH (%)</text>
<text transform="translate(301 280) rotate(-90)" font-size="13.3" text-anchor="middle">EE (%)</text>
<text transform="translate(488.6 279) rotate(90)" font-size="13.3" text-anchor="middle">LC (%)</text>
</svg>
</body></html>
